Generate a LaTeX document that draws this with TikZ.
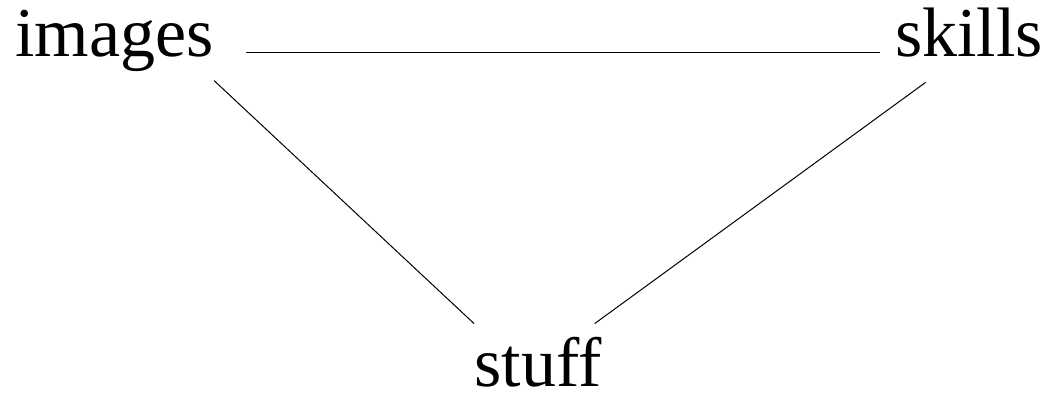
\documentclass[tikz,border=0pt]{standalone}
\usepackage{fontspec}
\setmainfont{Liberation Serif}
\usepackage{tikz}
\usetikzlibrary{positioning}

\begin{document}
\begin{tikzpicture}[x=1pt, y=1pt,
  word/.style={font=\fontsize{35}{42}\selectfont, inner sep=0pt, anchor=base},
  topword/.style={word, text height=17.25pt, text depth=12.75pt},
  link/.style={draw=black, line width=0.5pt}
]
\useasboundingbox (0,0) rectangle (524,-198);
\node[topword] (images) at (57.25,-28.25) {images};
\node[topword] (skills) at (484.5,-28.25) {skills};
\node[word, text height=31pt, text depth=0pt] (stuff) at (269,-193) {stuff};
\draw[link, shorten <=16pt, shorten >=7.5pt] (images.east) -- (skills.west);
\draw[link] (images.-16) -- (stuff.north west);
\draw[link] (skills.-145) -- (stuff.29);
\end{tikzpicture}
\end{document}
